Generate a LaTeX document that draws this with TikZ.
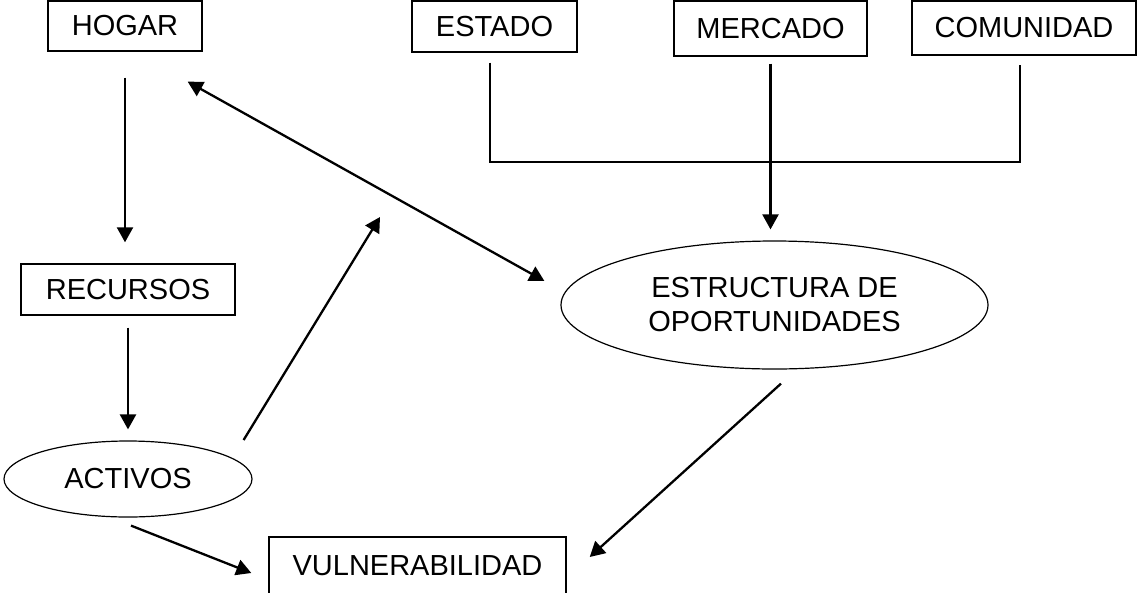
\documentclass[tikz,border=0pt]{standalone}
\usepackage{fontspec}
\setmainfont{Liberation Sans}
\usetikzlibrary{shapes,arrows.meta,positioning}

\begin{document}
\begin{tikzpicture}[x=1pt, y=-1pt, font=\fontsize{29pt}{34pt}\selectfont]

% Define styles
\tikzstyle{caja} = [rectangle, draw, line width=1.4pt, inner sep=0pt, text centered]
\tikzstyle{elipse} = [ellipse, draw, line width=1.2pt, inner sep=0pt, align=center]
\tikzstyle{flecha} = [line width=2.3pt, -{Triangle[length=15pt,width=16pt]}]
\tikzstyle{flechadoble} = [line width=2.3pt, {Triangle[length=15pt,width=16pt]}-{Triangle[length=15pt,width=16pt]}]
\tikzstyle{linea} = [line width=2.2pt]

\useasboundingbox (0,0) rectangle (1137,592);

% Nodes
\node [caja, minimum width=154pt, minimum height=50pt] (hogar) at (125,26) {HOGAR};
\node [caja, minimum width=165pt, minimum height=51pt] (estado) at (494.5,26.5) {ESTADO};
\node [caja, minimum width=193pt, minimum height=55pt] (mercado) at (770.5,28.5) {MERCADO};
\node [caja, minimum width=224pt, minimum height=54pt] (comunidad) at (1024,28) {COMUNIDAD};
\node [caja, minimum width=214pt, minimum height=51pt] (recursos) at (128,289.5) {RECURSOS};
\node [elipse, minimum width=248pt, minimum height=76pt] (activos) at (128,479) {ACTIVOS};
\node [elipse, minimum width=427pt, minimum height=128pt] (estructura) at (774.5,305) {ESTRUCTURA DE\\OPORTUNIDADES};
\node [caja, minimum width=297pt, minimum height=58pt] (vulnerabilidad) at (417.5,566) {VULNERABILIDAD};

\coordinate (union) at (770,162);
\coordinate (punta) at (380,217);

% Arrows
\draw [flecha] ([yshift=-26pt]hogar.south) -- ([yshift=21pt]recursos.north -| hogar.south);
\draw [flecha] ([yshift=-12pt]recursos.south) -- ([yshift=11pt]activos.north);
\draw [flecha] ([xshift=-9pt,yshift=39pt]activos.east) -- (punta);
\draw [flecha] ([xshift=3pt,yshift=-8pt]activos.south) -- ([xshift=-17pt,yshift=-7pt]vulnerabilidad.west);
\draw [flecha] ([xshift=6.5pt,yshift=-14pt]estructura.south) -- ([xshift=23pt,yshift=9pt]vulnerabilidad.east);
\draw [flechadoble] ([xshift=-15pt,yshift=-30pt]hogar.south east) -- ([xshift=-16pt,yshift=24pt]estructura.west);

\draw [linea] ([xshift=-4.5pt,yshift=-10pt]estado.south) |- (union) -| ([xshift=-4pt,yshift=-9pt]comunidad.south);
\draw [flecha] ([yshift=-7pt]mercado.south) -- ([yshift=11pt]estructura.north -| mercado.south);

\end{tikzpicture}
\end{document}
